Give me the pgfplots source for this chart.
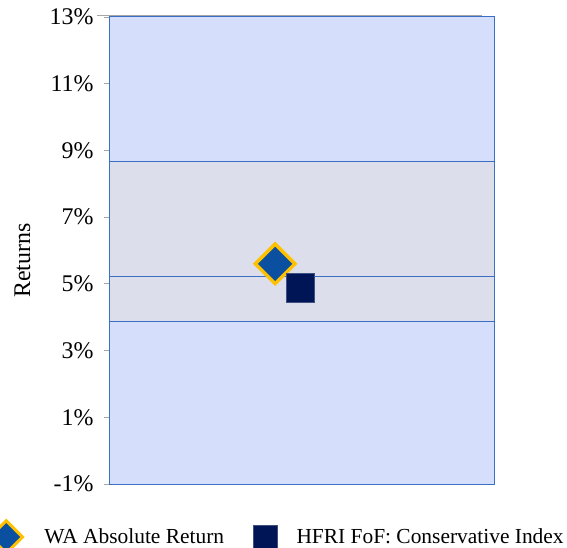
\documentclass[border=0pt]{standalone}
\usepackage{fontspec}
\setmainfont{Liberation Serif}
\usepackage{pgfplots}
\pgfplotsset{compat=1.18}
\definecolor{bandblue}{HTML}{D5DFFC}
\definecolor{bandgrey}{HTML}{DCDFEB}
\definecolor{edgeblue}{HTML}{3A6FC4}
\definecolor{wablue}{HTML}{0A4FA0}
\definecolor{wagold}{HTML}{FFC000}
\definecolor{hfnavy}{HTML}{001556}
\pgfplotsset{
  waleg/.style={legend image code/.code={\path (0bp,0bp) (38bp,0bp); \draw[##1, mark size=11.5bp, /tikz/every mark/.append style={line width=3bp}] plot coordinates {(0bp,0bp)};}},
  hfleg/.style={legend image code/.code={\path (-41bp,0bp) (31bp,0bp); \draw[##1, mark size=11.8bp] plot coordinates {(0bp,0bp)};}},
}
\begin{document}
\begin{tikzpicture}
\begin{axis}[
  name=ax,
  at={(0,0)}, anchor=south west,
  scale only axis, width=384bp, height=467bp,
  xmin=0, xmax=1, ymin=-1, ymax=13,
  axis x line=none, axis y line*=left,
  y axis line style={draw=gray!70, line width=0.8bp},
  ytick={-1,1,3,5,7,9,11,13},
  yticklabel={\pgfmathprintnumber{\tick}\%},
  /pgf/number format/assume math mode=true,
  tick align=outside, major tick length=6bp,
  ytick style={draw=gray!70, line width=0.8bp},
  ticklabel style={font=\fontsize{24}{27}\selectfont},
  yticklabel style={xshift=-7bp},
  ylabel={Returns},
  ylabel style={font=\fontsize{24}{27}\selectfont, at={(axis description cs:-0.228,0.4786)}, anchor=center},
  clip=false,
  legend columns=2,
  legend style={draw=none, fill=none, inner sep=0pt, nodes={inner sep=0pt},
    at={(axis description cs:-0.313,-0.1135)}, anchor=west,
    font=\fontsize{21.5}{24}\selectfont},
]
\addplot[forget plot, fill=bandblue, draw=edgeblue, line width=1bp] coordinates {(0,-1) (1,-1) (1,13) (0,13)} -- cycle;
\addplot[forget plot, fill=bandgrey, draw=edgeblue, line width=1bp] coordinates {(0,3.86) (1,3.86) (1,8.68) (0,8.68)} -- cycle;
\addplot[forget plot, draw=edgeblue, line width=1bp] coordinates {(0,5.21) (1,5.21)};
\addplot[forget plot, draw=gray!70, line width=1bp] coordinates {(-0.034,13.03) (0.969,13.03)};
\addplot[only marks, mark=square*, mark size=14bp,
  mark options={rotate=45, fill=wablue, draw=wagold, line width=3.5bp}, waleg]
  coordinates {(0.43,5.60)};
\addlegendentry{WA Absolute Return}
\addplot[only marks, mark=square*, mark size=14.3bp,
  mark options={fill=hfnavy, draw=hfnavy!75!white, line width=0.6bp}, hfleg]
  coordinates {(0.496,4.88)};
\addlegendentry{HFRI FoF: Conservative Index}
\end{axis}
\pgfresetboundingbox
\path[use as bounding box] ([shift={(-110bp,-64bp)}]ax.south west) rectangle ([shift={(457bp,484bp)}]ax.south west);
\end{tikzpicture}
\end{document}
